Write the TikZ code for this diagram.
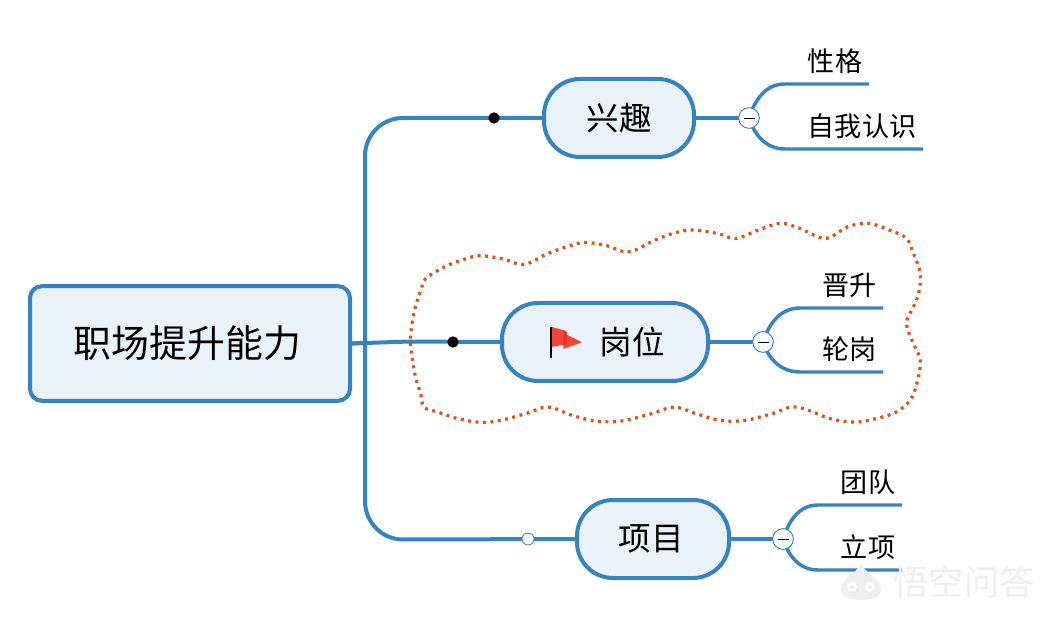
\documentclass[tikz,border=0pt]{standalone}
\usepackage{fontspec}
\setmainfont{Noto Sans CJK SC}
\usetikzlibrary{calc,backgrounds}
\definecolor{mapblue}{HTML}{3583C0}
\definecolor{mapfill}{HTML}{EAF2F9}
\definecolor{cloudline}{HTML}{D9531E}
\definecolor{flagred}{HTML}{F44336}
\definecolor{flagdark}{HTML}{D63A30}
\definecolor{wm}{HTML}{EFEFEF}
\tikzset{
  rootbox/.style={draw=mapblue,fill=mapfill,line width=3pt,rounded corners=9pt,minimum width=240pt,minimum height=86pt,inner sep=0pt,outer sep=0pt,font=\fontsize{28.4}{30}\selectfont},
  pill/.style={draw=mapblue,fill=mapfill,line width=3pt,rounded corners=27pt,minimum height=58.5pt,inner sep=0pt,outer sep=0pt,font=\fontsize{24.4}{28}\selectfont},
  leaf/.style={minimum height=34.5pt,inner sep=0pt,outer sep=0pt,font=\fontsize{20.3}{22}\selectfont},
  link/.style={draw=mapblue,line width=3pt},
  sublink/.style={draw=mapblue,line width=2.6pt},
  toggle/.style={circle,draw=mapblue,fill=white,line width=.7pt,minimum size=15.5pt,inner sep=0pt,outer sep=0pt},
  blackdot/.style={circle,fill=black,minimum size=8.5pt,inner sep=0pt,outer sep=0pt},
  whitedot/.style={circle,draw=mapblue,fill=white,line width=.6pt,minimum size=9pt,inner sep=0pt,outer sep=0pt},
}
\begin{document}
\begin{tikzpicture}[x=.75pt,y=-.75pt]
\useasboundingbox (0,0) rectangle (1054,620);
% main nodes
\node[rootbox] (root) at (190,343.5) {\hspace*{-3.75pt}\raisebox{-1.5pt}{职场提升能力}};
\node[pill,minimum width=112.5pt] (xq) at (619,118) {兴趣};
\node[pill,minimum width=154.5pt] (gw) at (605,342) {\hspace*{40.5pt}岗位};
\node[pill,minimum width=114pt] (xm) at (653,539) {\hspace*{-3pt}项目};
% leaves
\node[leaf,minimum width=51pt] (l1) at (835,61) {性格};
\node[leaf,minimum width=91.5pt] (l2) at (862,126) {自我认识};
\node[leaf,minimum width=50.25pt] (l3) at (849.5,285) {晋升};
\node[leaf,minimum width=50.25pt] (l4) at (849.5,349) {轮岗};
\node[leaf,minimum width=51pt] (l5) at (868,482) {团队};
\node[leaf,minimum width=51pt] (l6) at (868,547) {立项};
% toggles and dots
\node[toggle] (t1) at (749,118) {};
\node[toggle] (t2) at (763,342) {};
\node[toggle] (t3) at (783,539) {};
\foreach \t in {t1,t2,t3} \draw[black,line width=.7pt] ($(\t.center)+(-5.5,0)$) -- ($(\t.center)+(5.5,0)$);
\node[blackdot] (d1) at (494,118) {};
\node[blackdot] (d2) at (453,342) {};
\node[whitedot] (d3) at (528,539) {};
\coordinate (spine) at (365,343);
% connectors
\begin{scope}[on background layer]
\draw[link] (root.east) -- (spine);
\draw[link] (spine) -- (365,156) to[out=90,in=180] (403,118) -- (xq.west);
\draw[link] (spine) -- (365,501) to[out=-90,in=180] (403,539.5) -- (xm.west);
\draw[link] (root.east) -- (410,341.5) -- (gw.west);
\draw[link] (xq.east) -- (t1);
\draw[link] (gw.east) -- (t2);
\draw[link] (xm.east) -- (t3);
\foreach \t/\a/\b in {t1/l1/l2,t2/l3/l4,t3/l5/l6}{
  \draw[sublink] (\t.center) to[out=72,in=180] ($(\a.south west)+(-16,0)$) -- (\a.south west) -- (\a.south east);
  \draw[sublink] (\t.center) to[out=-72,in=180] ($(\b.south west)+(-16,0)$) -- (\b.south west) -- (\b.south east);
}
\end{scope}
% flag
\begin{scope}[shift={(400,210)},x=.2584pt,y=-.2505pt]
\fill[flagred] (440,350) -- (482,362) -- (482,402) -- (440,410) -- cycle;
\fill[flagred] (474,368) -- (528,396) -- (474,416) -- cycle;
\fill[flagdark] (474,362) -- (484,366) -- (484,402) -- (474,404) -- cycle;
\fill[black] (434,349) rectangle (442,442);
% cloud
\draw[cloudline,line width=2.4pt,line cap=butt,dash pattern=on 2.2pt off 3.4pt] plot[smooth cycle,tension=.6] coordinates {
(30,395)(35,340)(45,290)(62,235)(75,205)(130,170)(180,150)(230,137)(300,147)(360,163)(430,130)(500,105)(540,97)(600,107)(665,125)(740,90)(800,68)(850,60)(920,70)(975,85)(1040,60)(1105,40)(1160,55)(1235,85)(1300,50)(1360,40)(1420,60)(1470,85)(1490,130)(1510,190)(1505,250)(1490,290)(1470,340)(1490,400)(1510,450)(1500,520)(1480,570)(1440,605)(1380,625)(1320,635)(1250,625)(1150,590)(1080,610)(1000,630)(930,630)(860,610)(795,590)(730,610)(640,632)(570,632)(500,615)(430,590)(370,608)(300,628)(240,636)(170,625)(110,605)(70,590)(60,550)(45,500)(35,440)};
\end{scope}
% watermark
\fill[wm] (861,564) .. controls (866,574) and (880,578) .. (881,588) .. controls (882,596) and (874,600) .. (861,600) .. controls (848,600) and (840,596) .. (841,588) .. controls (842,578) and (856,574) .. (861,564) -- cycle;
\fill[white] (852,587) circle[radius=5] (870,587) circle[radius=5];
\fill[wm] (852,587) circle[radius=2.2] (870,587) circle[radius=2.2];
\node[text=wm,inner sep=0pt,font=\fontsize{26.5}{28}\selectfont] (wmark) at (964,582) {悟空问答};
\end{tikzpicture}
\end{document}
